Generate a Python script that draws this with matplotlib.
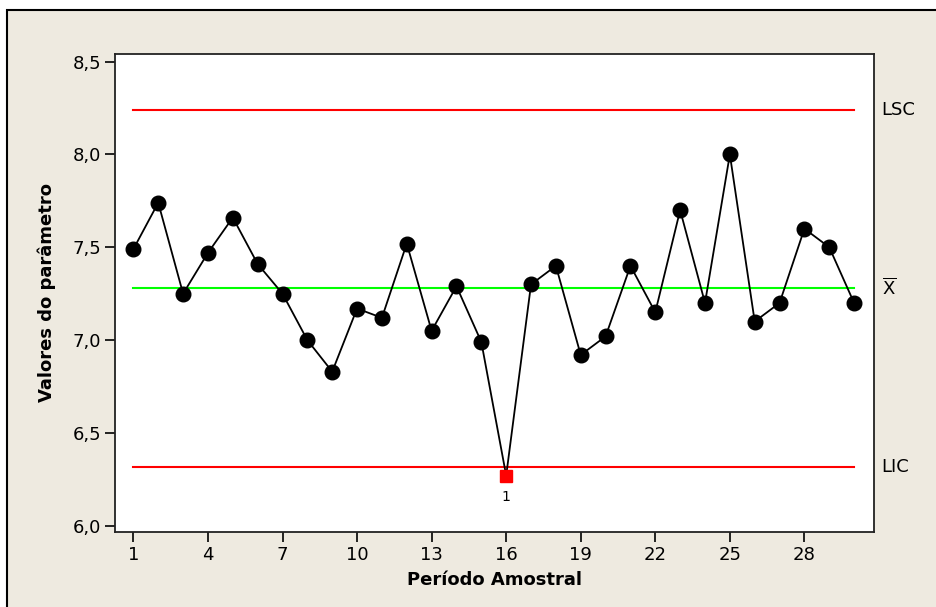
import matplotlib
matplotlib.use("Agg")
import matplotlib.pyplot as plt
from matplotlib.patches import Rectangle
from matplotlib.ticker import FuncFormatter

amostras = list(range(1, 31))
valores = [7.49, 7.74, 7.25, 7.47, 7.66, 7.41, 7.25, 7.00, 6.83, 7.17,
           7.12, 7.52, 7.05, 7.29, 6.99, 6.27, 7.30, 7.40, 6.92, 7.02,
           7.40, 7.15, 7.70, 7.20, 8.00, 7.10, 7.20, 7.60, 7.50, 7.20]
lsc = 8.24
media = 7.28
lic = 6.317
fora = [16]          # pontos fora dos limites
xticks = [1, 4, 7, 10, 13, 16, 19, 22, 25, 28]
yticks = [6.0, 6.5, 7.0, 7.5, 8.0, 8.5]

plt.rcParams['font.family'] = ['DejaVu Sans']

fig = plt.figure(figsize=(9.36, 6.07), dpi=100, facecolor='white')
fig.patches.append(Rectangle((7 / 936, -0.02), 1.0, 1 - 10 / 607 + 0.02,
                             transform=fig.transFigure, facecolor='#EEEAE0',
                             edgecolor='black', lw=1.5, zorder=-10))

ax = fig.add_axes([115 / 936, 1 - 531.7 / 607, (874 - 115) / 936, (531.7 - 54) / 607])
ax.set_zorder(1)
ax.set_facecolor('white')

ax.plot([amostras[0], amostras[-1]], [lsc, lsc], color='#FF0000', lw=1.5, zorder=2)
ax.plot([amostras[0], amostras[-1]], [media, media], color='#00FF00', lw=1.5, zorder=2)
ax.plot([amostras[0], amostras[-1]], [lic, lic], color='#FF0000', lw=1.5, zorder=2)

ax.plot(amostras, valores, color='black', lw=1.3, zorder=3)
normais = [(a, v) for a, v in zip(amostras, valores) if a not in fora]
ax.plot([a for a, v in normais], [v for a, v in normais], 'o', color='black',
        markersize=10.5, zorder=4)
for a in fora:
    v = valores[a - 1]
    ax.plot([a], [v], 's', color='#FF0000', markersize=8, zorder=5)
    ax.annotate('1', (a, v), xytext=(0, -10), textcoords='offset points',
                ha='center', va='top', fontsize=10)

for val, txt in [(lsc, 'LSC'), (media, r'$\overline{\mathrm{X}}$'), (lic, 'LIC')]:
    ax.annotate(txt, xy=(1.01, val), xycoords=('axes fraction', 'data'),
                ha='left', va='center', fontsize=13, annotation_clip=False)

ax.set_xlim(0.26, 30.8)
ax.set_ylim(5.968, 8.541)
ax.set_xticks(xticks)
ax.set_yticks(yticks)
ax.yaxis.set_major_formatter(FuncFormatter(lambda y, p: ('%.1f' % y).replace('.', ',')))
ax.tick_params(direction='out', length=7, width=1.2, labelsize=13, pad=3,
               top=False, right=False)
for s in ax.spines.values():
    s.set_color('#222222')
    s.set_linewidth(1.3)

ax.set_xlabel('Período Amostral', fontsize=13, fontweight='bold', labelpad=5)
ax.set_ylabel('Valores do parâmetro', fontsize=13, fontweight='bold', labelpad=12)

fig.savefig('out.png', dpi=100, facecolor=fig.get_facecolor())
